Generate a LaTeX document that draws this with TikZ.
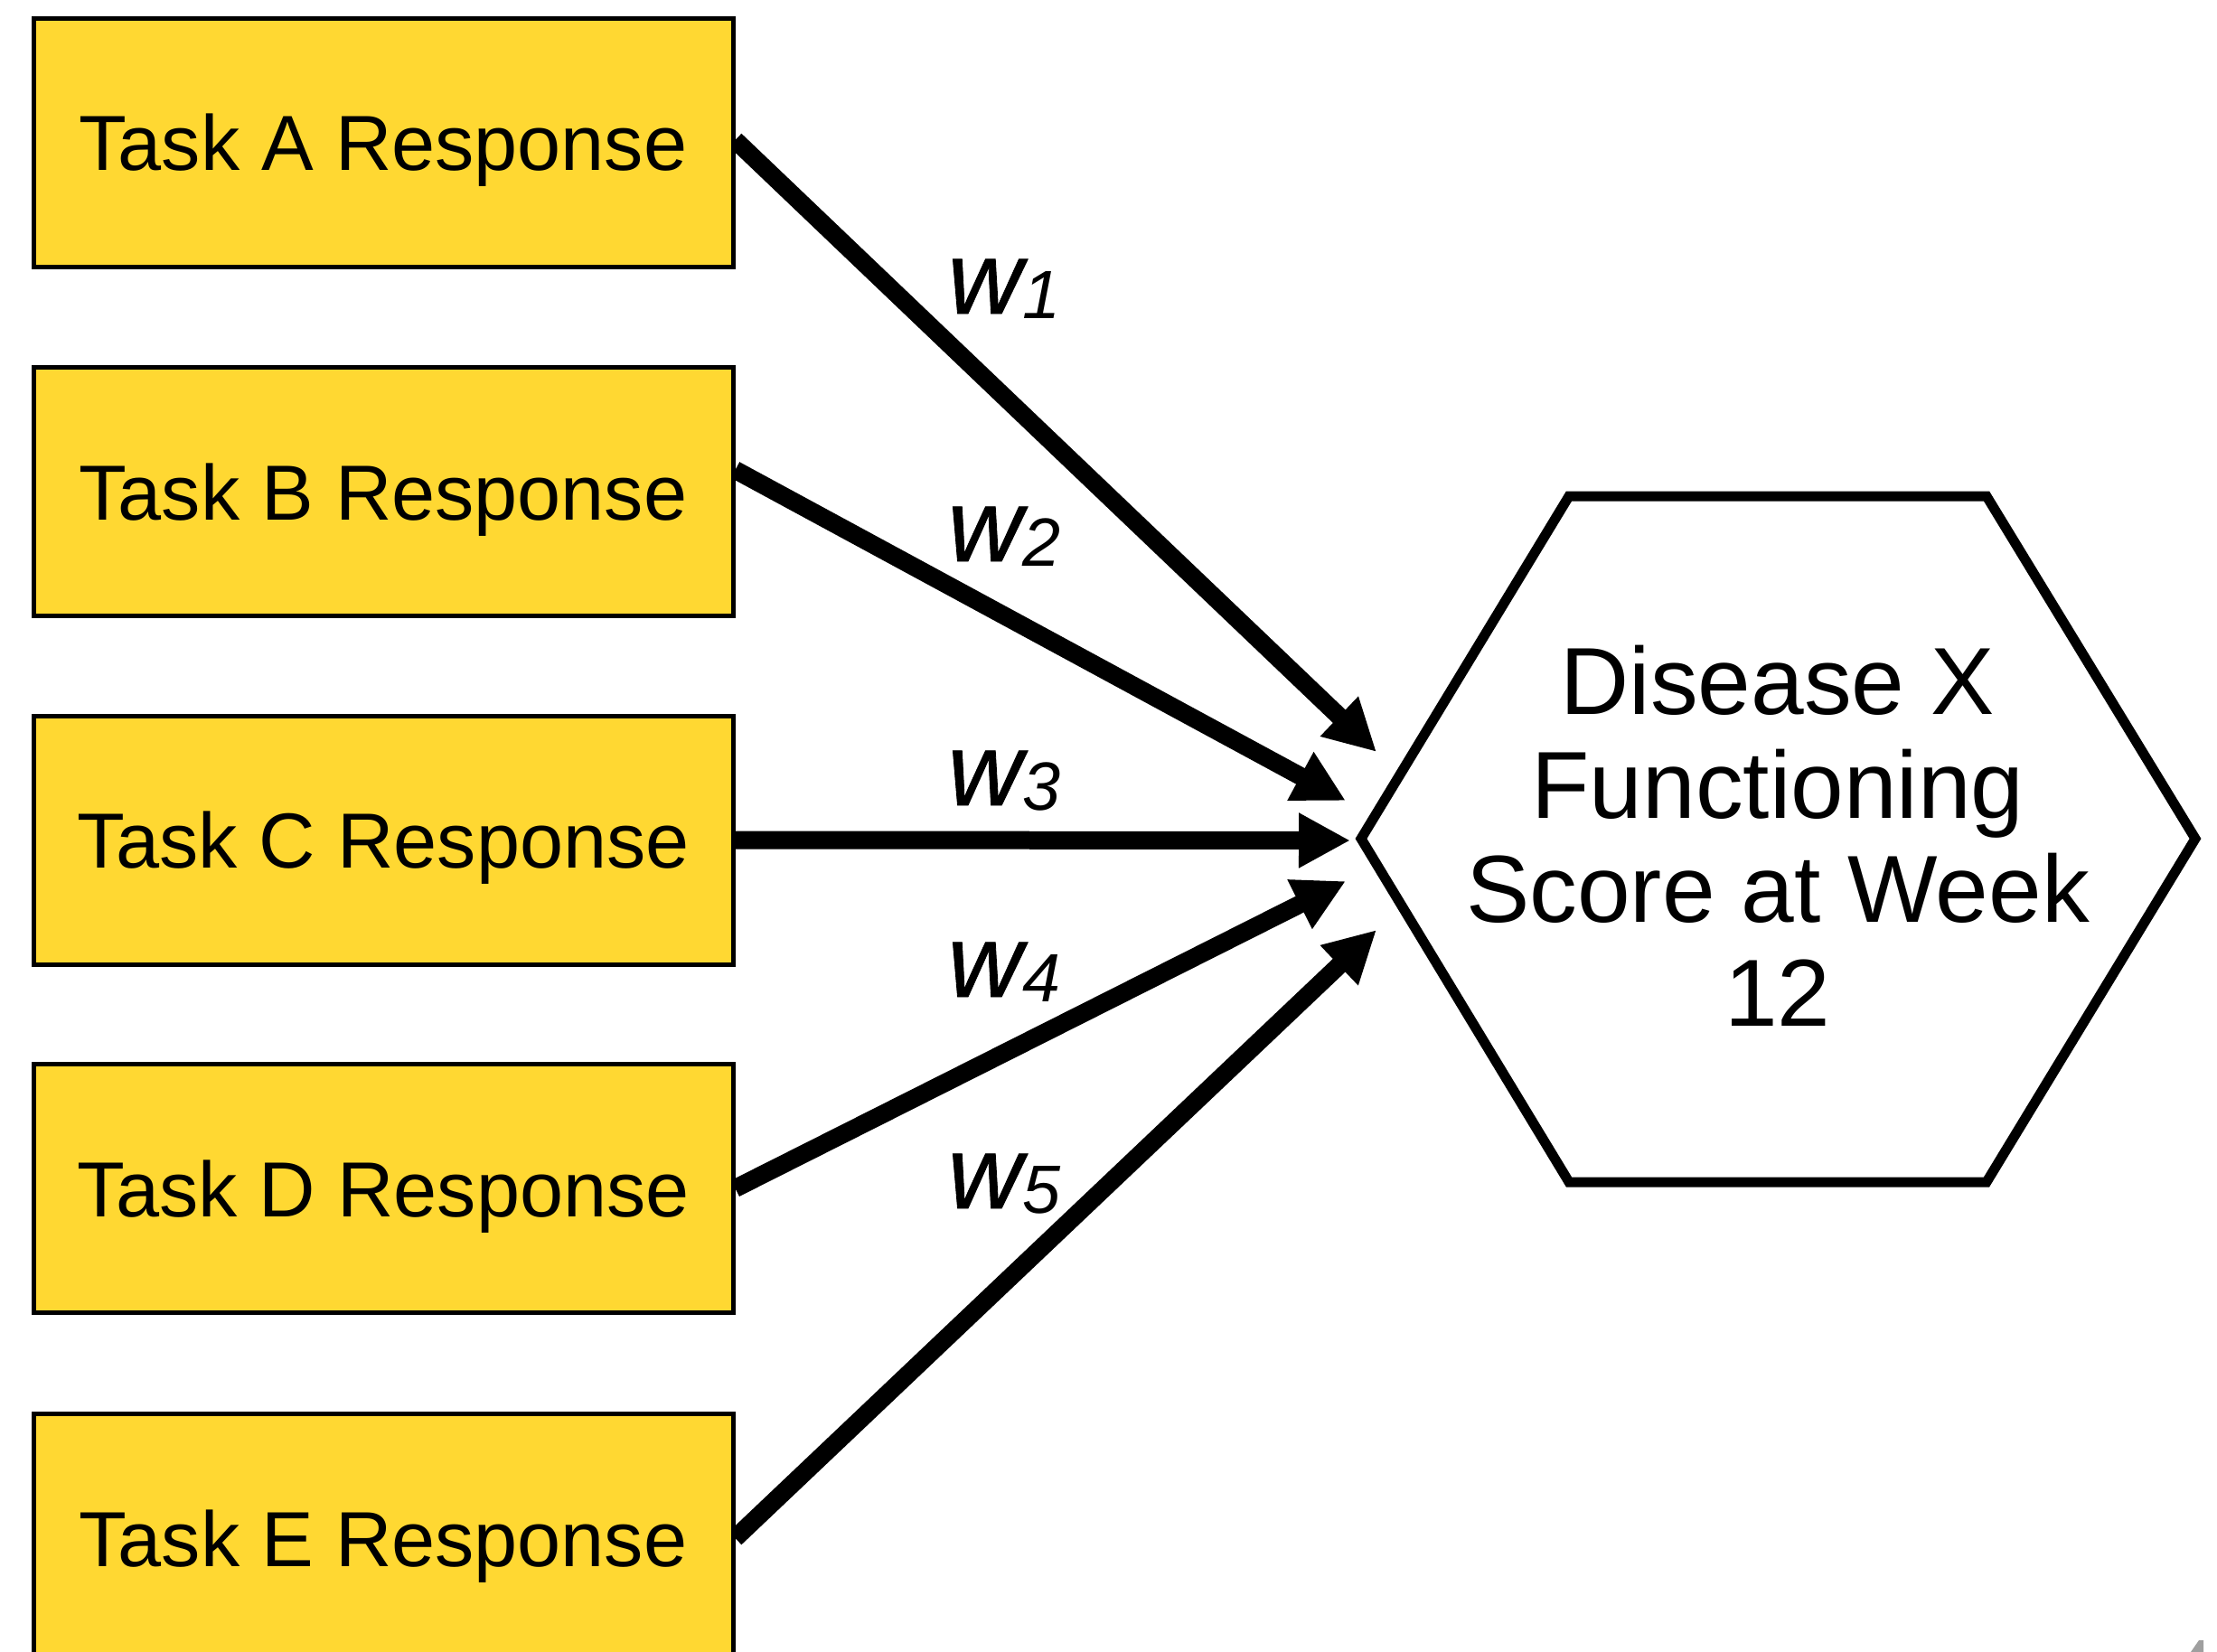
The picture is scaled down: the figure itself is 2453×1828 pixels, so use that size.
\documentclass[tikz,border=0pt]{standalone}
\usepackage{fontspec}
\setmainfont{Liberation Sans}
\usetikzlibrary{arrows.meta,calc,backgrounds}
\definecolor{taskfill}{RGB}{255,216,50}
\newcommand\wsub[1]{\raisebox{-0.5mm}{\fontsize{21.5}{22}\selectfont #1}}
\newcommand\wsym{{\addfontfeatures{FakeBold=0.7}w}}
\begin{document}
\begin{tikzpicture}[x=0.1mm,y=-0.1mm,
  taskbox/.style={draw=black, line width=0.5mm, fill=taskfill,
    minimum width=77.4mm, minimum height=27.5mm, inner sep=0pt,
    text depth=0pt, font=\fontsize{24.6}{26}\selectfont},
  weight/.style={arrows={-Triangle[length=5.7mm,width=5.7mm]}, line width=2mm},
  wlabel/.style={anchor=base west, inner sep=0pt,
    font=\fontsize{32.5}{34}\selectfont\itshape},
  outcome/.style={align=center, inner sep=0pt,
    font=\fontsize{30}{32.7}\selectfont},
  hexline/.style={draw=black, line width=1.1mm, line join=miter}]
\useasboundingbox (0,0) rectangle (2453,1828);
\clip (0,0) rectangle (2453,1828);

% input tasks
\node[taskbox] (a) at (424,157.5) {Task A Response};
\node[taskbox] (b) at (424,544)   {Task B Response};
\node[taskbox] (c) at (424,929.5) {Task C Response};
\node[taskbox] (d) at (424,1315)  {Task D Response};
\node[taskbox] (e) at (424,1702)  {Task E Response};

% outcome hexagon
\node[outcome] (score) at (1967,925) {Disease X\\Functioning\\Score at Week\\12};
\draw[hexline] (1506,928) -- (1736,549) -- (2198,549) -- (2429,928)
  -- (2198,1308) -- (1736,1308) -- cycle;

% arrow tips in front of the hexagon
\coordinate (tA) at (1523,832);
\coordinate (tB) at (1489,886);
\coordinate (tC) at (1494,930);
\coordinate (tD) at (1489,975);
\coordinate (tE) at (1523,1029);

\begin{scope}[on background layer]
  \draw[weight] ($(a.east)+(0,-2.5)$) -- (tA);
  \draw[weight] ($(b.east)+(0,-24)$) -- (tB);
  \draw[weight] (c.east) -- (tC);
  \draw[weight] (d.east) -- (tD);
  \draw[weight] (e.east) -- (tE);
\end{scope}

% weights
\node[wlabel] (w1) at (1048,347)  {\wsym\wsub{1}};
\node[wlabel] (w2) at (1048,621)  {\wsym\wsub{2}};
\node[wlabel] (w3) at (1048,891)  {\wsym\wsub{3}};
\node[wlabel] (w4) at (1048,1103) {\wsym\wsub{4}};
\node[wlabel] (w5) at (1048,1337) {\wsym\wsub{5}};

% corner mark
\fill[gray!75] (2424,1828) -- (2433,1815) -- (2438,1815) -- (2438,1828) -- cycle;
\end{tikzpicture}
\end{document}
